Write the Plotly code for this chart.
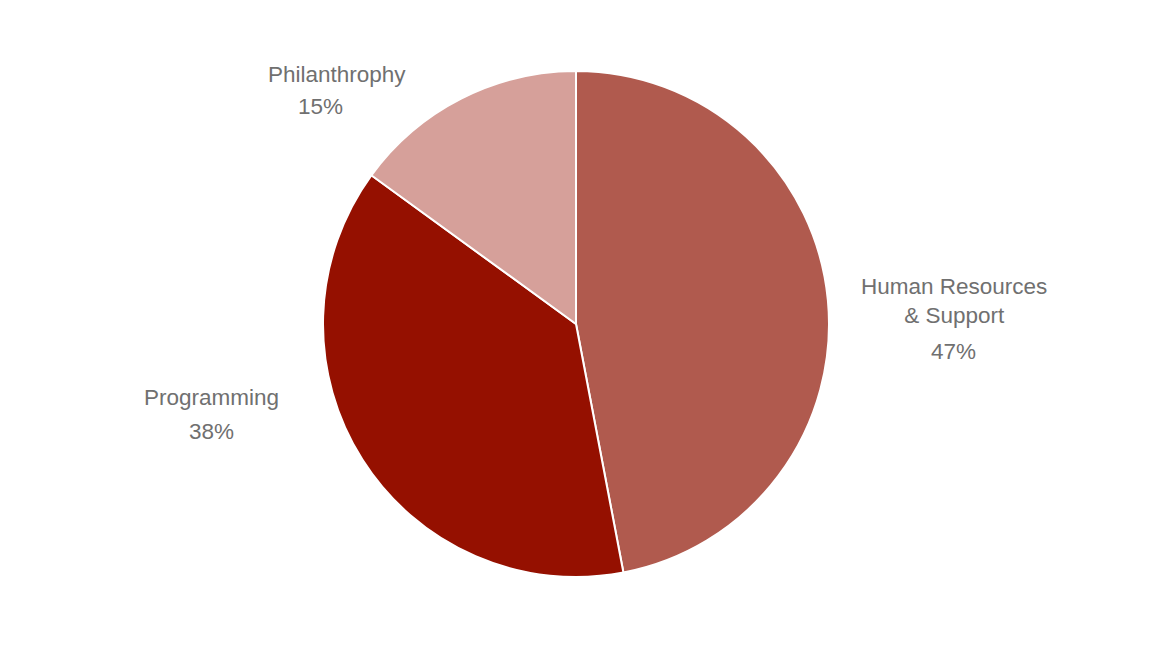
import plotly.graph_objects as go

categories = ["Human Resources<br>& Support", "Programming", "Philanthrophy"]
values = [47, 38, 15]
pct_labels = ["47%", "38%", "15%"]
colors = ["#B05A4E", "#951000", "#D6A09A"]

W, H = 1152, 648
OFF = 8  # page body margin in the browser
# label centre positions in screen pixels (name, percent)
name_pos = [(954, 301), (211, 397), (337, 74)]
pct_pos = [(953, 351), (211, 431), (320, 106)]

pie_top, pie_bottom = 71 - OFF, 577 - OFF

fig = go.Figure(go.Pie(
    labels=categories,
    values=values,
    sort=False,
    direction="clockwise",
    rotation=0,
    marker=dict(colors=colors, line=dict(color="white", width=2)),
    textinfo="none",
    hoverinfo="label+percent",
    domain=dict(x=[0, 1 - 2 * OFF / W], y=[(H - pie_bottom) / H, (H - pie_top) / H]),
    showlegend=False,
))

font = dict(family="Liberation Sans, Arial, Helvetica, sans-serif", size=22.5, color="#707070")
ann = []
for cat, pct, (nx, ny), (px, py) in zip(categories, pct_labels, name_pos, pct_pos):
    ann.append(dict(text=cat, x=(nx - OFF) / W, y=1 - (ny - OFF) / H, xref="paper", yref="paper",
                    xanchor="center", yanchor="middle", showarrow=False, font=font))
    ann.append(dict(text=pct, x=(px - OFF) / W, y=1 - (py - OFF) / H, xref="paper", yref="paper",
                    xanchor="center", yanchor="middle", showarrow=False, font=font))

fig.update_layout(
    width=W, height=H,
    margin=dict(l=0, r=0, t=0, b=0),
    paper_bgcolor="white", plot_bgcolor="white",
    annotations=ann,
)

fig.write_html("out.html")
